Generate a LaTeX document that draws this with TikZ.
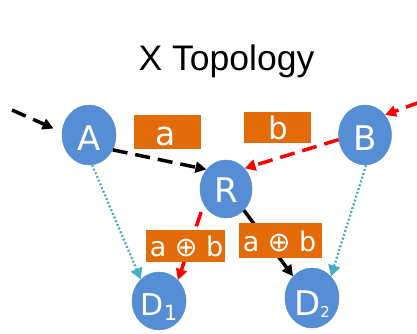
\documentclass[tikz,border=0pt]{standalone}
\usepackage{fontspec}
\setmainfont{DejaVu Sans}
\newfontfamily\titlefont{Liberation Sans}
\usetikzlibrary{shapes.geometric,arrows.meta}
\definecolor{nodeblue}{HTML}{558ED5}
\definecolor{pktorange}{HTML}{E36C09}
\definecolor{overhear}{HTML}{4BACC6}
\definecolor{flowred}{HTML}{FF0000}
\newcommand{\fs}[1]{\fontsize{#1}{#1}\selectfont}
\tikzset{
  host/.style={ellipse, fill=nodeblue, draw=nodeblue, line width=0.5pt,
    inner sep=0pt, text=white, font=\fs{34}, text depth=0pt},
  packet/.style={rectangle, fill=pktorange, inner sep=0pt},
  pkttext/.style={anchor=base, text=white, inner sep=0pt},
  flowa/.style={line width=3.5pt, black, dash pattern=on 15pt off 8pt,
    -{Triangle[length=11pt,width=11pt]}},
  flowb/.style={line width=3.5pt, flowred, dash pattern=on 15pt off 8pt,
    -{Triangle[length=11pt,width=11pt]}},
  coded/.style={line width=3.5pt, black, -{Triangle[length=11pt,width=11pt]}},
  listen/.style={line width=2.3pt, overhear, dash pattern=on 2pt off 2pt,
    -{Triangle[length=11pt,width=12pt]}}
}
\begin{document}
\begin{tikzpicture}[x=1pt,y=-1pt]
\useasboundingbox (0,0) rectangle (417,333);

% title
\node[anchor=base, font=\titlefont\fs{35.5}, inner sep=0pt] (title) at (226.5,70) {X Topology};

% hosts and relay
\node[host, minimum width=54pt, minimum height=60pt, text height=30pt] (A) at (89,135) {A};
\node[host, minimum width=53pt, minimum height=60pt, text height=30pt] (B) at (365,135) {B};
\node[host, minimum width=52pt, minimum height=58pt, text height=26pt] (R) at (226,189) {R};
\node[host, minimum width=54pt, minimum height=58pt, text height=28pt, font=\fs{30}] (D1) at (159,301)
  {D\raisebox{-5pt}{\fs{21}1}};
\node[host, minimum width=54pt, minimum height=60pt, text height=34pt] (D2) at (312,298)
  {D\raisebox{-2pt}{\fs{15}2}};

% incoming flows
\coordinate (srcA) at (12,110);
\coordinate (srcB) at (420,102);
\draw[flowa, shorten >=9pt] (srcA) -- (A.174);
\draw[flowa] (A.-32) -- (R.135);
\draw[flowb] (srcB) -- (B.45);
\draw[flowb] (B.190) -- (R.48);

% overheard links
\draw[listen] (A.-84) -- (D1.130);
\draw[listen] (B.-88) -- (D2.49);

% coded output
\draw[flowb, dash phase=15pt] (R.215) -- (D1.48);
\draw[coded] (R.-50) -- (D2.131);

% packets
\node[packet, minimum width=67pt, minimum height=34pt] (pa) at (167.5,132) {};
\node[pkttext, font=\fs{33}] (pat) at (166,145) {a};
\node[packet, minimum width=67pt, minimum height=31pt] (pb) at (277.5,127.5) {};
\node[pkttext, font=\fs{31}] (pbt) at (278,139) {b};
\node[packet, minimum width=79pt, minimum height=32pt] (px1) at (185.5,246) {};
\node[pkttext, font=\fs{27}] (px1t) at (186.5,256) {a ⊕ b};
\node[packet, minimum width=83pt, minimum height=35pt] (px2) at (280.5,240.5) {};
\node[pkttext, font=\fs{27}] (px2t) at (279.5,251) {a ⊕ b};
\end{tikzpicture}
\end{document}
